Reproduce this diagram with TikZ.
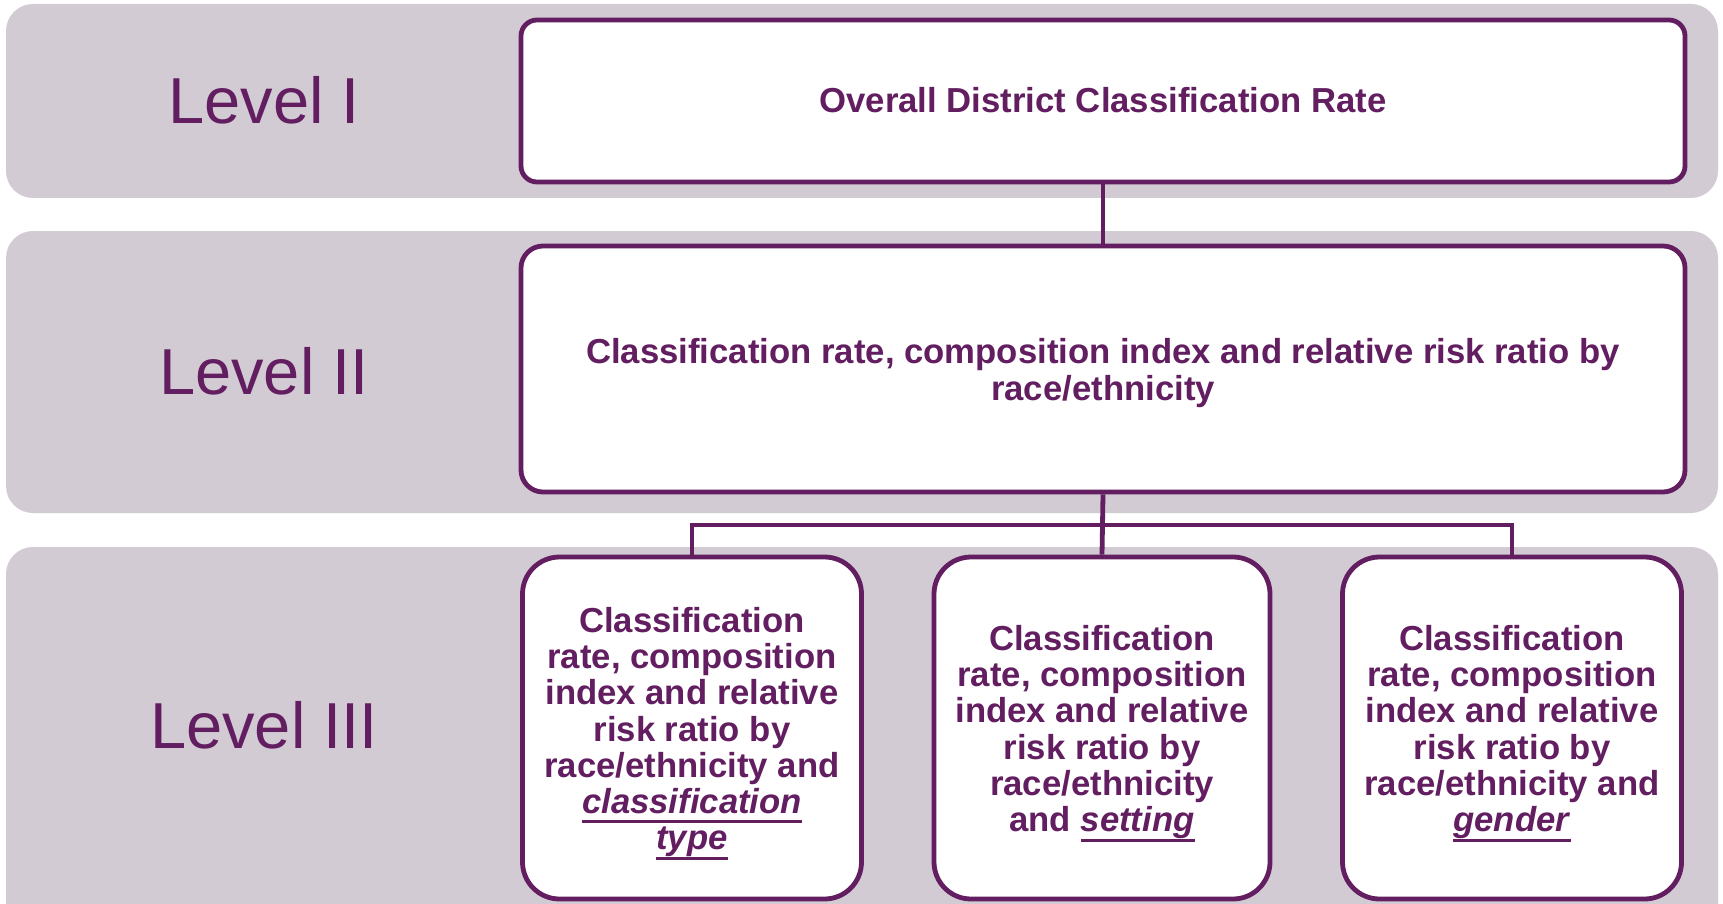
\documentclass[tikz,border=0pt]{standalone}
\usepackage{fontspec}
\setmainfont{Liberation Sans}
\newcommand\myul[1]{\setbox0\hbox{#1}\rlap{\rule[-10pt]{\wd0}{3pt}}\box0}
\definecolor{plum}{RGB}{98,30,96}
\definecolor{bandgray}{RGB}{211,203,212}
\tikzset{
  band/.style={fill=bandgray, rounded corners=27pt},
  lvl/.style={text=plum, font=\fontsize{65}{70}\selectfont, inner sep=0pt},
  box/.style={draw=plum, line width=4.8pt, fill=white, inner sep=0pt},
  boxtext/.style={align=center, text=plum, inner sep=0pt,
    font=\bfseries\fontsize{34.7}{36.2}\selectfont},
  conn/.style={draw=plum, line width=4.8pt},
}
\begin{document}
\begin{tikzpicture}[x=1pt,y=-1pt]
\clip (0,0) rectangle (1723,904);
\fill[white] (0,0) rectangle (1723,904);
\fill[band] (6,4) rectangle (1718,198);
\fill[band] (6,231) rectangle (1718,513);
\fill[band] (6,547) rectangle (1718,960);
\node[lvl] (lv1) at (264,100) {Level I};
\node[lvl] (lv2) at (264,371) {Level II};
\node[lvl] (lv3) at (264,725) {Level III};
\node[box, rounded corners=16pt, minimum width=1164pt, minimum height=162pt] (L1) at (1103,101) {};
\node[box, rounded corners=22pt, minimum width=1164pt, minimum height=246pt] (L2) at (1103,369) {};
\node[box, rounded corners=37pt, minimum width=339pt, minimum height=342pt] (B1) at (692,728) {};
\node[box, rounded corners=37pt, minimum width=336pt, minimum height=342pt] (B2) at (1102,728) {};
\node[box, rounded corners=37pt, minimum width=339pt, minimum height=342pt] (B3) at (1512,728) {};
\node[boxtext] (L1t) at ([yshift=1pt]L1.center) {Overall District Classification Rate};
\node[boxtext] (L2t) at ([yshift=-4pt]L2.center)
  {Classification rate, composition index and relative risk ratio by\\race/ethnicity};
\node[boxtext] (B1t) at ([yshift=-5.5pt]B1.center)
  {Classification\\rate, composition\\index and relative\\risk ratio by\\race/ethnicity and\\\myul{\textit{classification}}\\\myul{\textit{type}}};
\node[boxtext] (B2t) at ([yshift=-5.5pt]B2.center)
  {Classification\\rate, composition\\index and relative\\risk ratio by\\race/ethnicity\\and \myul{\textit{setting}}};
\node[boxtext] (B3t) at ([yshift=-5.5pt]B3.center)
  {Classification\\rate, composition\\index and relative\\risk ratio by\\race/ethnicity and\\\myul{\textit{gender}}};
\coordinate (bus) at (1102,525);
\draw[conn] (L1.south) -- (L2.north);
\draw[conn] (L2.south) -- (B2.north);
\draw[conn] (B1.north) |- (bus) -| (B3.north);
\end{tikzpicture}
\end{document}
